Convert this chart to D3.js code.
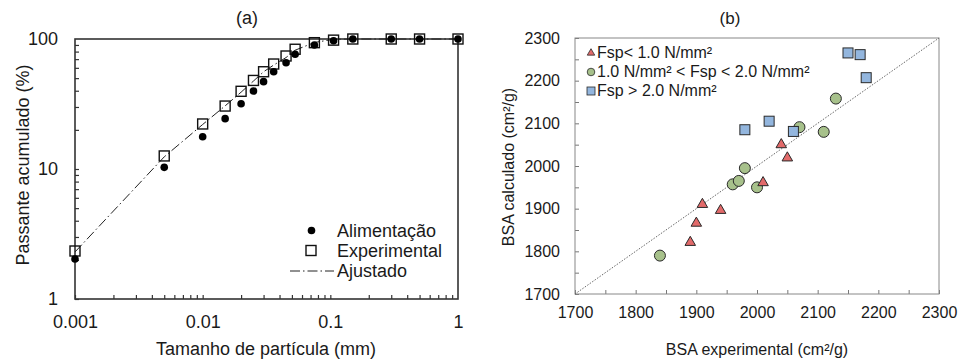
<html>
<head>
<meta charset="utf-8">
<script src="https://cdn.jsdelivr.net/npm/d3@7"></script>
<style>
  body { margin: 0; background: #fff; }
  text { font-family: "Liberation Sans", Arial, sans-serif; fill: #1a1a1a; }
  .domain { display: none; }
</style>
</head>
<body>
<script>
// ---- data, chart (a): particle size distribution ----
var sieveSizes  = [0.001, 0.005, 0.01, 0.015, 0.02, 0.025, 0.03, 0.036, 0.045, 0.053, 0.075, 0.106, 0.15, 0.3, 0.5, 1];
var feedPassing = [2.03, 10.3, 17.7, 24.4, 31.8, 39.8, 47, 56, 65.7, 76.3, 90, 97, 100, 100, 100, 100];
var expPassing  = [2.34, 12.6, 22.2, 30.5, 39.6, 48, 56, 64.2, 74, 83.4, 93.7, 98, 100, 100, 100, 100];
var fitPassing  = [2.3, 12.4, 22, 30.6, 39, 47.5, 56, 63, 72, 82, 94, 99.5, 100, 100, 100, 100];
var sizeTicks   = [0.001, 0.01, 0.1, 1];
var passTicks   = [1, 10, 100];
var legendA     = ["Alimentação", "Experimental", "Ajustado"];

// ---- data, chart (b): BSA experimental vs calculated ----
var lowX  = [1890, 1900, 1910, 1940, 2010, 2040, 2050];
var lowY  = [1821, 1866, 1910, 1896, 1961, 2050, 2019];
var midX  = [1840, 1960, 1970, 1980, 2000, 2070, 2110, 2130];
var midY  = [1790, 1957, 1965, 1995, 1950, 2091, 2080, 2158];
var highX = [1980, 2020, 2060, 2150, 2170, 2180];
var highY = [2085, 2105, 2081, 2265, 2261, 2207];
var bsaTicks = [1700, 1800, 1900, 2000, 2100, 2200, 2300];
var legendB  = ["Fsp< 1.0 N/mm²", "1.0 N/mm² < Fsp < 2.0 N/mm²", "Fsp > 2.0 N/mm²"];

var svg = d3.select("body").append("svg")
    .attr("width", 960)
    .attr("height", 360);

/* ================= chart (a) ================= */
var xa = d3.scaleLog().domain([0.001, 1]).range([75, 458]);
var ya = d3.scaleLog().domain([1, 100]).range([299, 39]);

// minor ticks, 1..9 of each decade
var minorX = [], minorY = [];
[0.001, 0.01, 0.1].forEach(function(d) { for (var i = 1; i < 10; i++) minorX.push(d * i); });
[1, 10].forEach(function(d) { for (var i = 1; i < 10; i++) minorY.push(d * i); });

svg.append("g").attr("transform", "translate(0,299)")
    .call(d3.axisBottom(xa).tickValues(minorX).tickSize(-4).tickFormat(""))
    .selectAll("line").attr("stroke", "#333").attr("stroke-width", 1.2);
svg.append("g").attr("transform", "translate(75,0)")
    .call(d3.axisLeft(ya).tickValues(minorY).tickSize(-4).tickFormat(""))
    .selectAll("line").attr("stroke", "#333").attr("stroke-width", 1.2);

svg.append("g").attr("transform", "translate(0,299)")
    .call(d3.axisBottom(xa).tickValues(sizeTicks).tickSize(0).tickPadding(16).tickFormat(d3.format("~g")))
    .selectAll("text").style("font-size", "18px").attr("fill", "#1a1a1a");
svg.append("g").attr("transform", "translate(75,0)")
    .call(d3.axisLeft(ya).tickValues(passTicks).tickSize(0).tickPadding(17).tickFormat(d3.format("~g")))
    .selectAll("text").style("font-size", "18px").attr("fill", "#1a1a1a");

svg.append("rect")
    .attr("x", 75).attr("y", 39).attr("width", 383).attr("height", 260)
    .attr("fill", "none").attr("stroke", "#333").attr("stroke-width", 1.6);

var fitLine = d3.line()
    .x(function(d, i) { return xa(sieveSizes[i]); })
    .y(function(d) { return ya(d); });

svg.append("path")
    .datum(fitPassing)
    .attr("d", fitLine)
    .attr("fill", "none")
    .attr("stroke", "#222")
    .attr("stroke-width", 1)
    .attr("stroke-dasharray", "10,3,1.5,3");

svg.selectAll(".expSq")
    .data(expPassing)
    .enter().append("rect")
    .attr("x", function(d, i) { return xa(sieveSizes[i]) - 5; })
    .attr("y", function(d) { return ya(d) - 5; })
    .attr("width", 10).attr("height", 10)
    .attr("fill", "none").attr("stroke", "#111").attr("stroke-width", 1.4);

svg.selectAll(".feedDot")
    .data(feedPassing)
    .enter().append("circle")
    .attr("cx", function(d, i) { return xa(sieveSizes[i]); })
    .attr("cy", function(d) { return ya(d); })
    .attr("r", 3.8)
    .attr("fill", "#000");

svg.append("text").attr("x", 247).attr("y", 24).attr("text-anchor", "middle")
    .style("font-size", "18px").text("(a)");
svg.append("text").attr("x", 266).attr("y", 355).attr("text-anchor", "middle")
    .style("font-size", "18px").text("Tamanho de partícula (mm)");
svg.append("text").attr("transform", "translate(29,165) rotate(-90)").attr("text-anchor", "middle")
    .style("font-size", "18px").text("Passante acumulado (%)");

// legend (a)
var lgA = svg.append("g");
lgA.append("circle").attr("cx", 311.5).attr("cy", 230.5).attr("r", 3.8).attr("fill", "#000");
lgA.append("rect").attr("x", 306).attr("y", 245.5).attr("width", 10).attr("height", 10)
    .attr("fill", "none").attr("stroke", "#111").attr("stroke-width", 1.4);
lgA.append("line").attr("x1", 290).attr("x2", 334).attr("y1", 271).attr("y2", 271)
    .attr("stroke", "#222").attr("stroke-width", 1).attr("stroke-dasharray", "10,3,1.5,3");
lgA.selectAll("text").data(legendA).enter().append("text")
    .attr("x", 337).attr("y", function(d, i) { return 237 + i * 20; })
    .style("font-size", "18px").text(function(d) { return d; });

/* ================= chart (b) ================= */
var xb = d3.scaleLinear().domain([1700, 2300]).range([575, 939]);
var yb = d3.scaleLinear().domain([1700, 2300]).range([294, 38]);
var halfTicks = d3.range(1700, 2301, 50);

svg.append("g").attr("transform", "translate(0,294)")
    .call(d3.axisBottom(xb).tickValues(halfTicks).tickSize(-4).tickFormat(""))
    .selectAll("line").attr("stroke", "#777");
svg.append("g").attr("transform", "translate(575,0)")
    .call(d3.axisLeft(yb).tickValues(halfTicks).tickSize(-4).tickFormat(""))
    .selectAll("line").attr("stroke", "#777");

svg.append("g").attr("transform", "translate(0,294)")
    .call(d3.axisBottom(xb).tickValues(bsaTicks).tickSize(0).tickPadding(13).tickFormat(d3.format("d")))
    .selectAll("text").style("font-size", "16px").attr("fill", "#1a1a1a");
svg.append("g").attr("transform", "translate(575,0)")
    .call(d3.axisLeft(yb).tickValues(bsaTicks).tickSize(0).tickPadding(15).tickFormat(d3.format("d")))
    .selectAll("text").style("font-size", "16px").attr("fill", "#1a1a1a");

svg.append("rect")
    .attr("x", 575).attr("y", 38).attr("width", 364).attr("height", 256)
    .attr("fill", "none").attr("stroke", "#888").attr("stroke-width", 1);

svg.append("line")
    .attr("x1", xb(1700)).attr("y1", yb(1700))
    .attr("x2", xb(2300)).attr("y2", yb(2300))
    .attr("stroke", "#666").attr("stroke-width", 1).attr("stroke-dasharray", "1.5,1.5");

var triColor = "#E26A6A", cirColor = "#A7C18B", sqColor = "#93B6DE";

svg.selectAll(".mid")
    .data(midY)
    .enter().append("circle")
    .attr("cx", function(d, i) { return xb(midX[i]); })
    .attr("cy", function(d) { return yb(d); })
    .attr("r", 5.5)
    .attr("fill", cirColor).attr("stroke", "#2a2a2a").attr("stroke-width", 1);

svg.selectAll(".low")
    .data(lowY)
    .enter().append("path")
    .attr("d", d3.symbol().type(d3.symbolTriangle).size(48))
    .attr("transform", function(d, i) { return "translate(" + xb(lowX[i]) + "," + yb(d) + ")"; })
    .attr("fill", triColor).attr("stroke", "#2a2a2a").attr("stroke-width", 1);

svg.selectAll(".high")
    .data(highY)
    .enter().append("rect")
    .attr("x", function(d, i) { return xb(highX[i]) - 5; })
    .attr("y", function(d) { return yb(d) - 5; })
    .attr("width", 10).attr("height", 10)
    .attr("fill", sqColor).attr("stroke", "#2a2a2a").attr("stroke-width", 1);

svg.append("text").attr("x", 730).attr("y", 24).attr("text-anchor", "middle")
    .style("font-size", "17px").text("(b)");
svg.append("text").attr("x", 757).attr("y", 355).attr("text-anchor", "middle")
    .style("font-size", "16px").text("BSA experimental (cm²/g)");
svg.append("text").attr("transform", "translate(514,167) rotate(-90)").attr("text-anchor", "middle")
    .style("font-size", "16px").text("BSA calculado (cm²/g)");

// legend (b)
var lgB = svg.append("g");
lgB.append("path").attr("d", d3.symbol().type(d3.symbolTriangle).size(24))
    .attr("transform", "translate(591,53)")
    .attr("fill", triColor).attr("stroke", "#2a2a2a").attr("stroke-width", 0.8);
lgB.append("circle").attr("cx", 591).attr("cy", 72).attr("r", 3.8)
    .attr("fill", cirColor).attr("stroke", "#2a2a2a").attr("stroke-width", 0.8);
lgB.append("rect").attr("x", 587).attr("y", 87).attr("width", 8).attr("height", 8)
    .attr("fill", sqColor).attr("stroke", "#2a2a2a").attr("stroke-width", 0.8);
lgB.selectAll("text").data(legendB).enter().append("text")
    .attr("x", 597).attr("y", function(d, i) { return 58 + i * 19; })
    .style("font-size", "16px").text(function(d) { return d; });
</script>
</body>
</html>
